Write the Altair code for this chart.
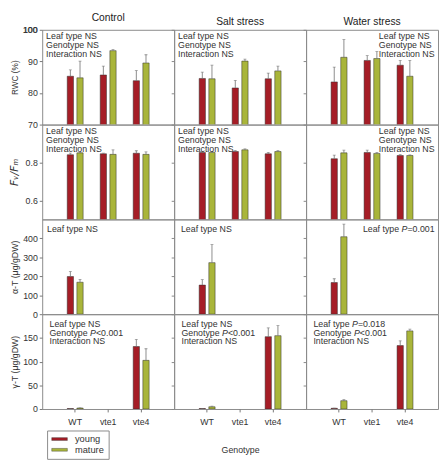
import altair as alt
import pandas as pd

# ---------------- data ----------------
genotypes = ["WT", "vte1", "vte4"]
leaf_types = ["young", "mature"]
treatments = ["Control", "Salt stress", "Water stress"]

# values per treatment (Control, Salt stress, Water stress), per genotype (WT, vte1, vte4)
rwc_young = [[85.3, 85.7, 83.9], [84.6, 81.6, 84.5], [83.5, 90.3, 88.8]]
rwc_young_se = [[2.0, 2.8, 3.2], [2.0, 2.4, 1.8], [4.7, 1.5, 1.5]]
rwc_mature = [[84.8, 93.4, 89.5], [84.5, 90.1, 87.0], [91.3, 90.9, 85.3]]
rwc_mature_se = [[5.3, 0.3, 2.6], [4.3, 0.6, 1.5], [5.6, 2.2, 5.0]]

fvfm_young = [[0.841, 0.846, 0.849], [0.853, 0.858, 0.846], [0.820, 0.853, 0.837]]
fvfm_young_se = [[0.008, 0.003, 0.013], [0.005, 0.005, 0.007], [0.019, 0.012, 0.004]]
fvfm_mature = [[0.851, 0.843, 0.843], [0.853, 0.867, 0.858], [0.851, 0.848, 0.837]]
fvfm_mature_se = [[0.002, 0.024, 0.013], [0.005, 0.005, 0.005], [0.014, 0.005, 0.003]]

atoc_young = [[198.5, None, None], [153.5, None, None], [167.0, None, None]]
atoc_young_se = [[26.5, None, None], [28.5, None, None], [20.0, None, None]]
atoc_mature = [[168.5, None, None], [272.0, None, None], [408.5, None, None]]
atoc_mature_se = [[15.0, None, None], [95.0, None, None], [66.5, None, None]]

gtoc_young = [[1.0, None, 131.8], [1.0, None, 152.6], [1.5, None, 133.8]]
gtoc_young_se = [[0.5, None, 15.0], [0.5, None, 18.5], [0.5, None, 10.0]]
gtoc_mature = [[2.0, None, 102.6], [4.7, None, 154.7], [17.5, None, 164.8]]
gtoc_mature_se = [[0.5, None, 24.5], [1.3, None, 21.0], [2.0, None, 3.5]]

row_titles = ["RWC (%)", "F\u1d65/F\u2098", "\u03b1-T (\u03bcg/gDW)", "\u03b3-T (\u03bcg/gDW)"]
row_domains = [[70, 100], [0.5, 1.0], [0, 500], [0, 200]]
row_ticks = [[70, 80, 90, 100], [0.6, 0.8], [0, 100, 200, 300, 400], [0, 50, 100, 150]]
row_formats = ["d", ".1f", "d", "d"]
rwc_top_label = 100

# statistics text; *P* marks italic
annotations = [
    [["Leaf type NS", "Genotype NS", "Interaction NS"]] * 3,
    [["Leaf type NS", "Genotype NS", "Interaction NS"]] * 3,
    [["Leaf type NS"], ["Leaf type NS"], ["Leaf type *P*=0.001"]],
    [["Leaf type NS", "Genotype *P*<0.001", "Interaction NS"],
     ["Leaf type NS", "Genotype *P*<0.001", "Interaction NS"],
     ["Leaf type *P*=0.018", "Genotype *P*<0.001", "Interaction NS"]],
]

colors = ["#a51d26", "#a9b53a"]

# ---------------- layout / style ----------------
W, H = 135, 97
FONT = "Liberation Sans"
AFS = 9.0
ARIAL = {"L": 556, "e": 556, "a": 556, "f": 278, " ": 278, "t": 278, "y": 500, "p": 556,
         "N": 722, "S": 667, "G": 778, "n": 556, "o": 556, "I": 278, "r": 333, "c": 500,
         "i": 222, "P": 667, "<": 584, "=": 584, "0": 556, ".": 278, "1": 556, "8": 556}


def tw(s):
    return sum(ARIAL.get(ch, 556) for ch in s) * AFS / 1000.0


series = [
    (rwc_young, rwc_young_se, rwc_mature, rwc_mature_se),
    (fvfm_young, fvfm_young_se, fvfm_mature, fvfm_mature_se),
    (atoc_young, atoc_young_se, atoc_mature, atoc_mature_se),
    (gtoc_young, gtoc_young_se, gtoc_mature, gtoc_mature_se),
]

color_enc = alt.Color(
    "leaf:N",
    scale=alt.Scale(domain=leaf_types, range=colors),
    legend=alt.Legend(
        title=None, orient="none", legendX=5, legendY=4 * H + 22,
        direction="vertical", strokeColor="#8a8a8a", padding=4, fillColor="white",
        symbolType="M-2,-0.36H2V0.36H-2Z", symbolSize=64, symbolStrokeColor="#333",
        symbolStrokeWidth=0.4, symbolOffset=4, labelFont=FONT, labelFontSize=9.5,
        labelColor="#333", rowPadding=0, labelOffset=11,
    ),
)


def annot_layers(r, c):
    lines = annotations[r][c]
    if r <= 1:
        base, step = 9.5, 9.3
    else:
        base, step = 13.0, 9.0
    widths = [tw(l.replace("*", "")) for l in lines]
    if c == 2 and r <= 2:
        x0 = W - 3.5 - max(widths)
    elif r == 0 or r == 1:
        x0 = 4
    elif r == 2:
        x0 = 5 if c == 0 else 7
    else:
        x0 = 7.5
    layers = []
    for i, line in enumerate(lines):
        y = base + i * step
        x = x0
        parts = line.split("*")
        for k, seg in enumerate(parts):
            if seg == "":
                continue
            italic = (k % 2 == 1)
            layers.append(
                alt.Chart(pd.DataFrame({"t": [seg]})).mark_text(
                    align="left", baseline="alphabetic", font=FONT, fontSize=AFS,
                    fontStyle="italic" if italic else "normal", color="#333",
                ).encode(text="t:N", x=alt.value(x), y=alt.value(y))
            )
            x += tw(seg)
    return layers


def panel(r, c):
    yv, yse, mv, mse = series[r]
    rows = []
    for gi, g in enumerate(genotypes):
        for leaf, vals, ses in (("young", yv, yse), ("mature", mv, mse)):
            v = vals[c][gi]
            if v is None:
                continue
            rows.append({"genotype": g, "leaf": leaf, "val": v, "top": v + ses[c][gi]})
    df = pd.DataFrame(rows)

    if c == 0:
        yaxis = alt.Axis(
            title=row_titles[r], values=row_ticks[r], format=row_formats[r], grid=False,
            domain=False, tickSize=3, tickColor="#777", labelFont=FONT, labelFontSize=9,
            labelColor="#333", labelPadding=2, labelOverlap=False, labelFlush=False,
            labelBound=False, labelBaseline="middle", zindex=1,
            titleFont="DejaVu Sans" if r == 1 else FONT,
            titleFontSize=11 if r == 1 else (8.5 if r == 0 else 9),
            titleFontStyle="italic" if r == 1 else "normal",
            titleFontWeight="normal", titleColor="#333", titleX=-28, titleY=H / 2,
            titleAngle=270, titleAlign="center", titleBaseline="middle",
        )
    else:
        yaxis = alt.Axis(title=None, values=row_ticks[r], labels=False, grid=False,
                         domain=False, tickSize=3, tickColor="#888")

    if r == 3:
        xaxis = alt.Axis(
            title="Genotype" if c == 1 else None, labelAngle=0, domain=False, tickSize=3,
            tickColor="#777", labelFont=FONT, labelFontSize=9, labelColor="#333",
            labelPadding=6, labelOverlap=False, titleFont=FONT, titleFontSize=9,
            titleFontWeight="normal", titleColor="#333", titleY=42, titleBaseline="middle",
        )
    else:
        xaxis = None

    xs = alt.Scale(domain=genotypes, paddingInner=0.4, paddingOuter=0.7)
    xo_enc = alt.XOffset("leaf:N", scale=alt.Scale(domain=leaf_types, paddingInner=0.35,
                                                   paddingOuter=0.2))
    y_scale = alt.Scale(domain=row_domains[r], zero=False, nice=False)

    base = alt.Chart(df)
    bars = base.mark_bar(stroke="#2e2e2e", strokeWidth=0.5, clip=True).encode(
        x=alt.X("genotype:N", scale=xs, axis=xaxis), xOffset=xo_enc,
        y=alt.Y("val:Q", scale=y_scale, axis=yaxis), color=color_enc,
    )
    err = base.mark_rule(color="#6e6e6e", strokeWidth=0.8, clip=True).encode(
        x=alt.X("genotype:N", scale=xs, axis=xaxis), xOffset=xo_enc,
        y=alt.Y("val:Q", scale=y_scale, axis=yaxis), y2="top:Q",
    )
    cap = base.mark_tick(color="#6e6e6e", thickness=0.8, size=3, clip=True).encode(
        x=alt.X("genotype:N", scale=xs, axis=xaxis), xOffset=xo_enc,
        y=alt.Y("top:Q", scale=y_scale, axis=yaxis),
    )
    extra = []
    if r == 0 and c == 0:
        # top tick label of the RWC axis, placed through the y scale
        extra.append(
            alt.Chart(pd.DataFrame({"v": [rwc_top_label]})).mark_text(
                align="right", baseline="middle", font=FONT, fontSize=9, color="#333",
            ).encode(
                y=alt.Y("v:Q", scale=y_scale, axis=yaxis),
                x=alt.value(-5),
                text=alt.Text("v:Q", format="d"),
            )
        )
    ch = alt.layer(bars, err, cap, *extra, *annot_layers(r, c))
    props = dict(width=W, height=H)
    if r == 0:
        props["title"] = alt.TitleParams(treatments[c], fontSize=10.5, fontWeight="normal",
                                         font=FONT, color="#222", offset=2, anchor="middle")
    return ch.properties(**props)


panels = [panel(r, c) for r in range(4) for c in range(3)]

chart = alt.concat(*panels, columns=3, spacing=0, bounds="flush").properties(
    padding=0
).configure_view(stroke="#8a8a8a", strokeWidth=1).configure_axis(
    labelFont=FONT
)

chart.save("out.html", embed_options={"renderer": "svg", "actions": False})
